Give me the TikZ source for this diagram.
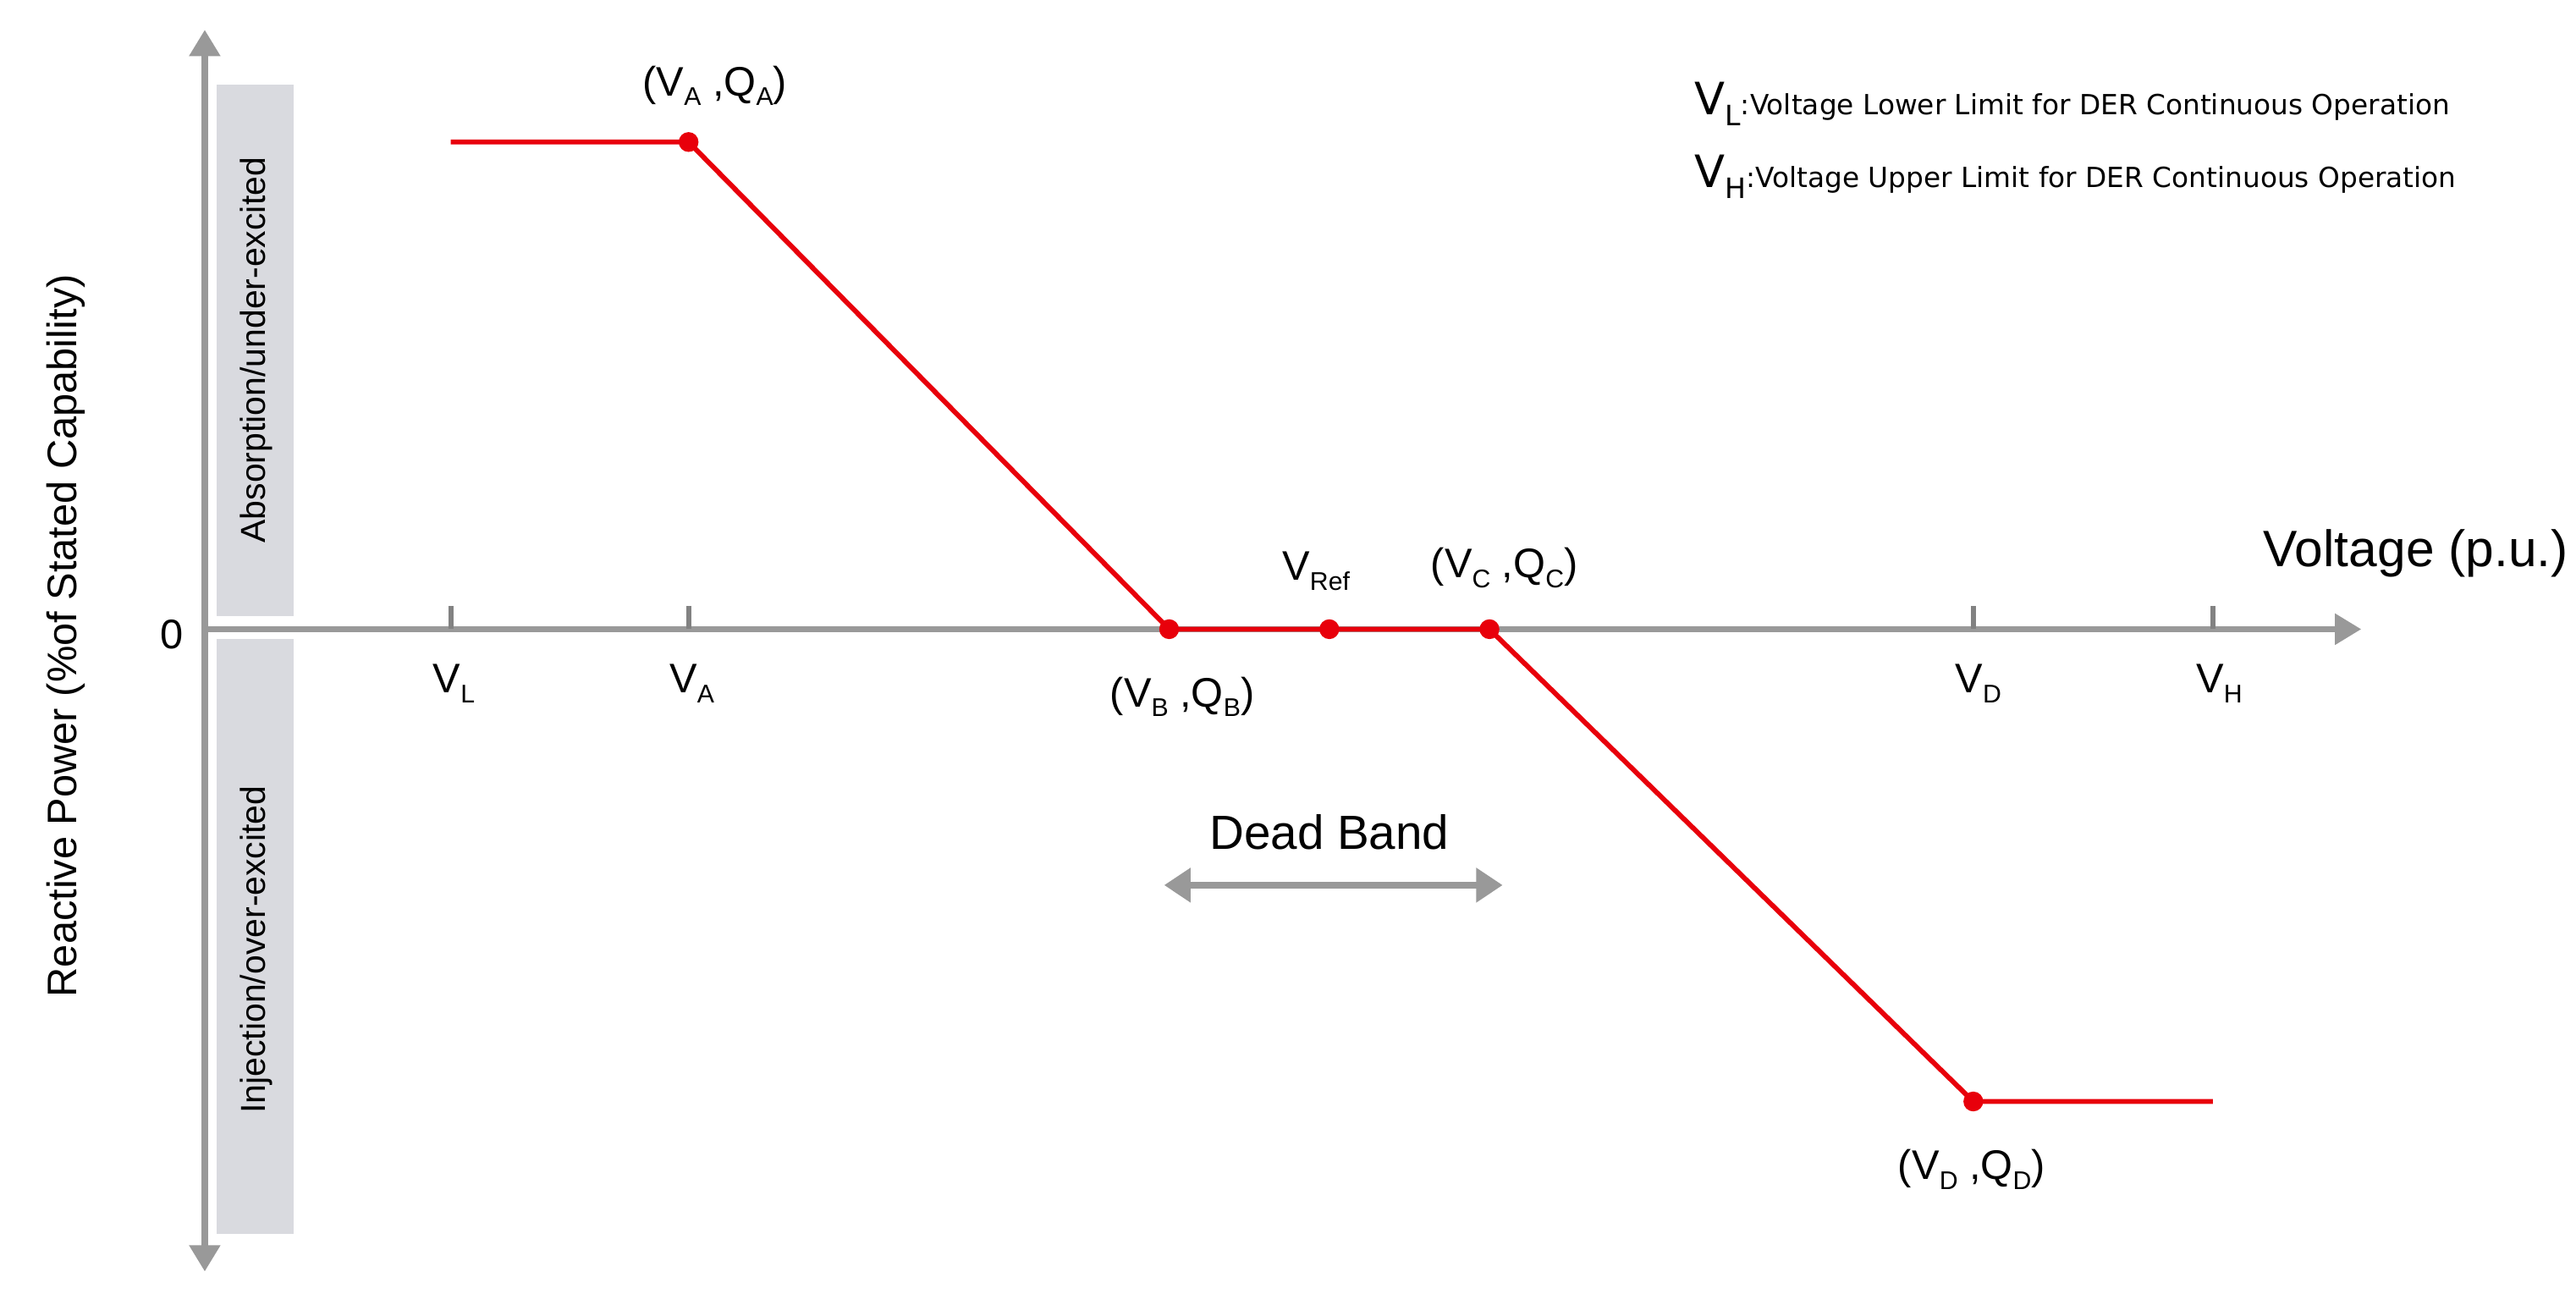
\documentclass[tikz,border=0pt]{standalone}
\usepackage{fontspec}
\setmainfont{Liberation Sans}
\newfontfamily\legfont{DejaVu Sans}
\usetikzlibrary{arrows.meta}
\newcommand\lowsub[1]{\raisebox{-.45ex}{\scalebox{.62}{#1}}}
\definecolor{axgray}{HTML}{999999}
\definecolor{boxgray}{HTML}{D9DADF}
\definecolor{curvred}{HTML}{E8000B}
\begin{document}
\begin{tikzpicture}[x=1pt,y=-1pt,
  axis/.style={axgray,line width=4pt},
  tip/.style={-{Triangle[width=18pt,length=16pt]}},
  curve/.style={curvred,line width=3pt},
  dot/.style={circle,fill=curvred,inner sep=0pt,minimum size=12pt},
  lbl/.style={font=\fontsize{25}{27}\selectfont,inner sep=0pt},
  side/.style={font=\fontsize{21}{23}\selectfont,rotate=90,inner sep=0pt},
  legend/.style={anchor=west,inner sep=0pt,font=\legfont},
  tick/.style={axgray!85!black,line width=3pt}]
\useasboundingbox (0,0) rectangle (1560,790);
% gray bands
\fill[boxgray] (131,51) rectangle (178,373);
\fill[boxgray] (131,387) rectangle (178,747);
\node[side] (abs) at (155,212) {Absorption/under-excited};
\node[side] (inj) at (155,575) {Injection/over-excited};
% axes
\coordinate (ybot) at (124,770);
\coordinate (ytop) at (124,18);
\coordinate (xo) at (124,381);
\coordinate (xend) at (1430,381);
\draw[axis,{Triangle[width=18pt,length=16pt]}-{Triangle[width=18pt,length=16pt]}] (ybot) -- (ytop);
\draw[axis,tip] (xo) -- (xend);
\foreach \x/\n in {273/tL,417/tA,1195/tD,1340/tH}{
  \coordinate (\n) at (\x,367);
  \draw[tick] (\n) -- ++(0,14);
}
\node[font=\fontsize{25}{27}\selectfont,rotate=90,inner sep=0pt] (ylab) at (40,385) {Reactive Power (\%of Stated Capability)};
\node[lbl] (zero) at (104,384) {0};
\node[font=\fontsize{31}{33}\selectfont,inner sep=0pt] (xlab) at (1463,335) {Voltage (p.u.)};
% curve
\coordinate (p0) at (273,86);
\node[dot] (pA) at (417,86) {};
\node[dot] (pB) at (708,381) {};
\node[dot] (pR) at (805,381) {};
\node[dot] (pC) at (902,381) {};
\node[dot] (pD) at (1195,667) {};
\coordinate (p9) at (1340,667);
\draw[curve] (p0) -- (pA.center) -- (pB.center) -- (pR.center) -- (pC.center) -- (pD.center) -- (p9);
% labels
\node[lbl] (lA) at (433,52) {(V\lowsub{A} ,Q\lowsub{A})};
\node[lbl] (lB) at (716,422) {(V\lowsub{B} ,Q\lowsub{B})};
\node[lbl] (lC) at (911,344) {(V\lowsub{C} ,Q\lowsub{C})};
\node[lbl] (lD) at (1194,708) {(V\lowsub{D} ,Q\lowsub{D})};
\node[lbl] (lR) at (797,346) {V\lowsub{Ref}};
\node[lbl] (vL) at (275,414) {V\lowsub{L}};
\node[lbl] (vA) at (419,414) {V\lowsub{A}};
\node[lbl] (vD) at (1198,414) {V\lowsub{D}};
\node[lbl] (vH) at (1344,414) {V\lowsub{H}};
% dead band
\node[font=\fontsize{29}{31}\selectfont,inner sep=0pt] (db) at (805,504) {Dead Band};
\coordinate (dbl) at (705,536);
\coordinate (dbr) at (910,536);
\draw[axgray,line width=4pt,{Triangle[width=20pt,length=16pt]}-{Triangle[width=20pt,length=16pt]}] (dbl) -- (dbr);
% legend
\node[legend] (legL) at (1026,63) {\fontsize{27}{29}\selectfont V\raisebox{-.45ex}{\fontsize{17}{19}\selectfont L}\fontsize{16.8}{18}\selectfont:Voltage Lower Limit for DER Continuous Operation};
\node[legend] (legH) at (1026,107) {\fontsize{27}{29}\selectfont V\raisebox{-.45ex}{\fontsize{17}{19}\selectfont H}\fontsize{16.8}{18}\selectfont:Voltage Upper Limit for DER Continuous Operation};
\end{tikzpicture}
\end{document}
